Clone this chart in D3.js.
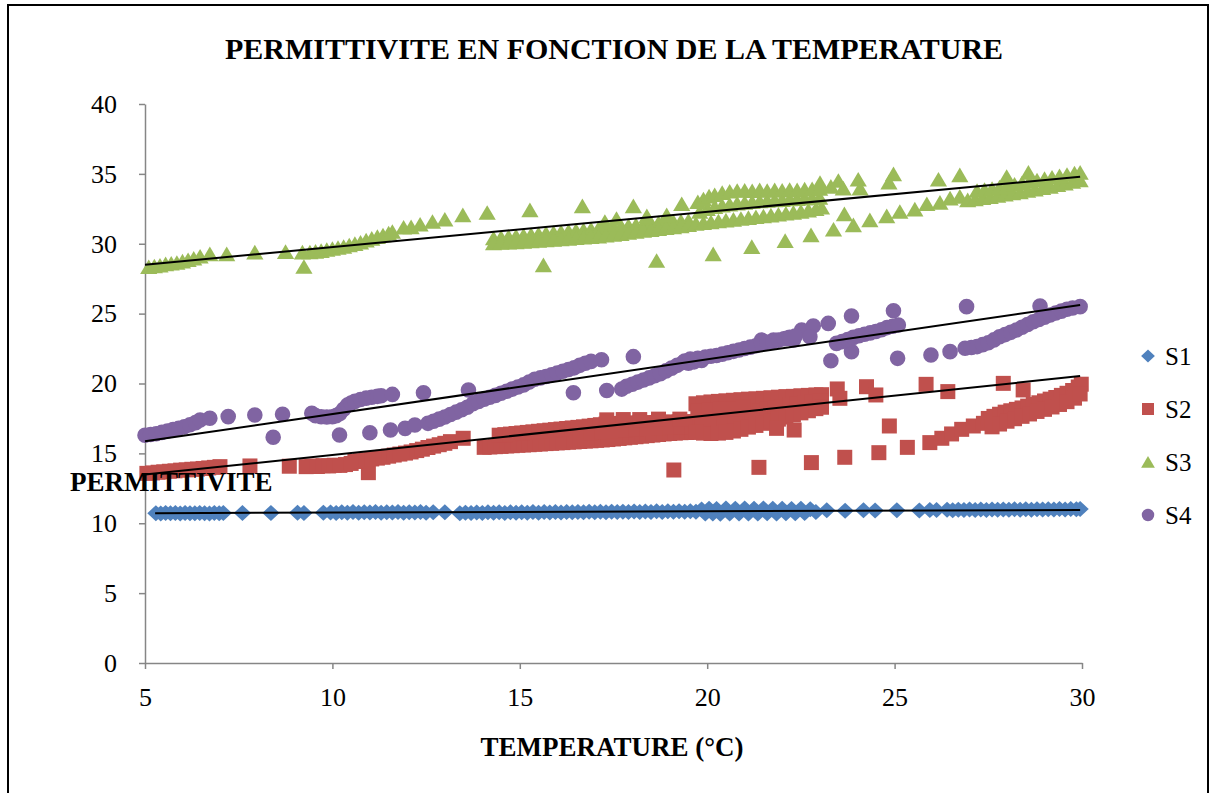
<!DOCTYPE html>
<html>
<head>
<meta charset="utf-8">
<script src="https://cdn.jsdelivr.net/npm/d3@7"></script>
<style>
  body { margin: 0; background: #fff; }
  svg { display: block; }
</style>
</head>
<body>
<svg id="chart" width="1214" height="793"></svg>
<script>
// Permittivity vs temperature, four samples (S1..S4) with linear trendlines.
const seriesNames = ["S1", "S2", "S3", "S4"];
const seriesColors = ["#4F81BD", "#C0504D", "#9BBB59", "#8064A2"];
const xTicks = [5, 10, 15, 20, 25, 30];
const yTicks = [0, 5, 10, 15, 20, 25, 30, 35, 40];

// [temperature °C, permittivity]
const s1 = [
  [5.29,10.72],[5.42,10.7],[5.55,10.74],[5.68,10.71],[5.81,10.73],[5.94,10.7],[6.07,10.74],[6.2,10.72],
  [6.33,10.71],[6.46,10.74],[6.59,10.72],[6.72,10.7],[6.85,10.74],[6.98,10.72],[7.09,10.73],
  [7.6,10.73],[8.36,10.74],[9.07,10.75],[9.24,10.73],[9.76,10.76],
  [9.95,10.77],[10.1,10.74],[10.25,10.79],[10.4,10.76],[10.55,10.8],[10.7,10.75],[10.85,10.79],[11.0,10.77],
  [11.15,10.8],[11.3,10.76],[11.45,10.79],[11.6,10.77],[11.75,10.8],[11.9,10.76],[12.05,10.79],[12.2,10.77],
  [12.35,10.8],[12.5,10.76],[12.69,10.79],[13.0,10.78],
  [13.4,10.72],[13.55,10.76],[13.7,10.73],[13.85,10.77],[14.0,10.74],[14.15,10.78],[14.3,10.75],[14.45,10.78],
  [14.6,10.74],[14.75,10.78],[14.9,10.75],[15.05,10.79],[15.2,10.76],[15.35,10.8],[15.5,10.76],[15.65,10.8],
  [15.8,10.77],[15.95,10.8],[16.1,10.77],[16.25,10.81],[16.4,10.78],[16.55,10.81],[16.7,10.78],[16.85,10.82],
  [17.0,10.78],[17.15,10.82],[17.3,10.79],[17.45,10.83],[17.6,10.8],[17.75,10.83],[17.9,10.8],[18.05,10.84],
  [18.2,10.8],[18.35,10.84],[18.5,10.81],[18.65,10.85],[18.8,10.81],[18.95,10.85],[19.1,10.82],[19.25,10.86],
  [19.4,10.82],[19.55,10.86],[19.7,10.83],
  [19.85,10.98],[19.95,10.7],[20.05,11.04],[20.15,10.7],[20.25,11.02],[20.35,10.68],[20.5,11.05],[20.6,10.7],
  [20.75,11.03],[20.85,10.69],[21.0,11.05],[21.1,10.7],[21.25,11.03],[21.35,10.69],[21.5,11.05],[21.6,10.71],
  [21.75,11.03],[21.85,10.7],[22.0,11.04],[22.1,10.72],[22.25,11.02],[22.35,10.71],[22.5,11.03],[22.6,10.73],
  [22.75,11.0],[22.9,10.8],
  [23.19,10.93],[23.68,10.9],[24.17,10.93],[24.48,10.92],[25.06,10.93],[25.66,10.92],[25.94,10.95],[26.12,10.94],
  [26.4,10.96],[26.55,10.93],[26.7,10.97],[26.85,10.94],[27.0,10.98],[27.15,10.95],[27.3,10.98],[27.45,10.95],
  [27.6,10.99],[27.75,10.96],[27.9,10.99],[28.05,10.96],[28.2,11.0],[28.35,10.97],[28.5,11.0],[28.65,10.97],
  [28.8,11.01],[28.95,10.98],[29.1,11.01],[29.25,10.98],[29.4,11.02],[29.55,10.99],[29.7,11.02],[29.85,11.0],
  [29.95,11.02]
];

const s2 = [
  [5.05,13.57],[5.2,13.6],[5.35,13.65],[5.5,13.68],[5.65,13.72],[5.8,13.75],[5.95,13.8],[6.1,13.82],
  [6.25,13.86],[6.4,13.88],[6.55,13.92],[6.7,13.96],[6.85,14.0],[7.0,14.05],
  [7.8,14.1],[8.85,14.08],
  [9.3,14.05],[9.45,14.1],[9.6,14.06],[9.75,14.12],[9.9,14.1],[10.05,14.15],[10.2,14.14],[10.35,14.2],[10.5,14.28],
  [10.96,13.62],
  [10.6,14.42],[10.75,14.48],[10.9,14.55],[11.05,14.6],[11.2,14.66],[11.35,14.72],[11.5,14.8],[11.65,14.88],
  [11.8,14.95],[11.95,15.02],[12.1,15.1],[12.25,15.2],[12.4,15.3],[12.55,15.42],[12.7,15.52],[12.85,15.62],
  [13.0,15.72],[13.15,15.84],
  [13.49,16.08],
  [14.05,15.43],[14.2,15.46],[14.35,15.48],[14.5,15.5],[14.65,15.53],[14.8,15.55],[14.95,15.58],[15.1,15.6],
  [15.25,15.62],[15.4,15.65],[15.55,15.67],[15.7,15.7],[15.85,15.72],[16.0,15.75],[16.15,15.77],[16.3,15.8],
  [16.45,15.82],[16.6,15.85],[16.75,15.88],[16.9,15.9],[17.05,15.93],[17.2,15.96],[17.35,15.99],[17.5,16.03],
  [17.65,16.07],[17.8,16.11],[17.95,16.15],[18.1,16.19],[18.25,16.23],[18.4,16.27],[18.55,16.31],[18.7,16.35],
  [18.85,16.39],[19.0,16.42],[19.15,16.45],[19.3,16.48],[19.45,16.5],[19.6,16.52],
  [14.45,16.3],[14.6,16.34],[14.75,16.38],[14.9,16.42],[15.05,16.46],[15.2,16.5],[15.35,16.54],[15.5,16.58],
  [15.65,16.62],[15.8,16.66],[15.95,16.7],[16.1,16.74],[16.25,16.78],[16.4,16.82],[16.55,16.86],[16.7,16.9],
  [16.85,16.95],[17.0,17.0],[17.15,17.05],[17.3,17.1],[17.45,17.12],[17.6,17.14],[17.75,17.15],[17.9,17.16],
  [18.05,17.17],[18.2,17.18],[18.35,17.19],[18.5,17.2],[18.65,17.21],[18.8,17.22],[18.95,17.23],[19.1,17.24],
  [19.25,17.25],[19.4,17.26],[19.55,17.27],
  [16.6,16.35],[16.9,16.45],[17.2,16.55],[17.5,16.62],[17.8,16.68],[18.1,16.72],[18.4,16.78],[18.7,16.82],
  [19.0,16.86],[19.3,16.9],[19.6,16.95],
  [17.32,17.4],[17.76,17.42],[18.2,17.42],[18.7,17.45],[19.27,17.45],
  [19.7,18.55],[19.9,18.62],[20.1,18.68],[20.3,18.72],[20.5,18.76],[20.7,18.8],[20.9,18.84],[21.1,18.88],
  [21.3,18.9],[21.5,18.94],[21.7,18.98],[21.9,19.02],[22.1,19.06],[22.3,19.08],[22.5,19.12],[22.7,19.15],
  [22.9,19.18],[23.05,19.2],
  [19.8,17.55],[20.0,17.6],[20.2,17.65],[20.4,17.7],[20.6,17.75],[20.8,17.8],[21.0,17.85],[21.2,17.95],
  [21.4,18.05],[21.6,18.15],[21.8,18.25],[22.0,18.35],[22.2,18.45],[22.4,18.55],[22.6,18.62],[22.8,18.7],[23.0,18.75],
  [19.75,18.05],[20.05,18.1],[20.35,18.15],[20.65,18.2],[20.95,18.3],
  [19.85,17.0],[20.15,17.0],[20.45,17.05],[20.75,17.1],
  [19.7,16.5],[19.9,16.45],[20.1,16.42],[20.3,16.45],[20.5,16.5],[20.7,16.6],[20.9,16.72],[21.1,16.88],
  [21.3,17.0],[21.5,17.15],[21.7,17.3],[21.9,17.45],[22.1,17.6],[22.3,17.75],[22.5,17.9],[22.7,18.05],
  [22.9,18.2],[23.05,18.3],
  [19.11,13.81],[21.38,14.0],[21.85,16.79],[22.32,16.67],[22.78,14.34],[23.47,19.61],[23.54,18.94],[23.67,14.72],
  [24.25,19.77],[24.5,19.18],[24.58,15.05],[24.86,16.96],[25.34,15.43],[25.84,19.94],[25.94,15.77],[26.26,16.08],
  [26.42,19.42],[26.52,16.39],[26.79,16.72],[27.1,16.96],[27.37,17.15],[27.9,20.01],[28.43,19.54],
  [27.5,17.5],[27.65,17.65],[27.8,17.8],[27.95,17.95],[28.1,18.05],[28.25,18.15],[28.4,18.25],[28.55,18.38],
  [28.7,18.5],[28.85,18.62],[29.0,18.75],[29.15,18.88],[29.3,19.0],[29.45,19.15],[29.6,19.3],[29.75,19.5],
  [29.9,19.75],[29.98,19.95],
  [27.6,16.9],[27.8,17.1],[28.0,17.3],[28.2,17.48],[28.4,17.65],[28.6,17.82],[28.8,18.0],[29.0,18.15],
  [29.2,18.32],[29.4,18.5],[29.6,18.7],[29.8,18.95],[29.95,19.25]
];

const s3 = [
  [5.1,28.35],[5.25,28.4],[5.4,28.45],[5.55,28.55],[5.7,28.6],[5.85,28.65],[6.0,28.75],[6.15,28.85],
  [6.3,28.95],[6.47,29.1],
  [6.73,29.27],[7.18,29.27],[7.93,29.39],[8.75,29.43],[9.2,29.39],[9.24,28.36],
  [9.4,29.4],[9.55,29.45],[9.7,29.5],[9.85,29.58],[10.0,29.65],[10.15,29.72],[10.3,29.8],[10.45,29.9],
  [10.6,30.0],[10.75,30.1],[10.9,30.25],[11.05,30.38],[11.2,30.5],[11.35,30.62],[11.5,30.75],[11.6,30.87],
  [11.9,31.17],[12.1,31.2],[12.34,31.39],[12.67,31.58],[13.0,31.75],[13.48,32.06],[14.13,32.23],
  [14.3,30.4],[14.5,30.45],[14.7,30.5],[14.9,30.55],[15.1,30.6],[15.3,30.65],[15.5,30.7],[15.7,30.75],
  [15.9,30.8],[16.1,30.85],[16.3,30.9],[16.5,30.95],[16.7,31.0],[16.9,31.05],[17.1,31.1],[17.3,31.15],
  [17.5,31.2],[17.7,31.25],[17.9,31.3],[18.1,31.35],[18.3,31.4],[18.5,31.45],[18.7,31.5],[18.9,31.55],
  [19.1,31.58],[19.3,31.62],[19.5,31.66],
  [14.3,30.05],[14.5,30.08],[14.7,30.1],[14.9,30.13],[15.1,30.16],[15.3,30.2],[15.5,30.23],[15.7,30.27],
  [15.9,30.3],[16.1,30.34],[16.3,30.38],[16.5,30.42],[16.7,30.46],[16.9,30.5],[17.1,30.53],[17.3,30.6],
  [17.5,30.66],[17.7,30.72],[17.9,30.8],[18.1,30.87],[18.3,30.94],[18.5,31.0],[18.7,31.07],[18.9,31.14],
  [19.1,31.2],[19.3,31.27],[19.5,31.35],
  [15.27,32.42],[16.67,32.7],[17.27,31.58],[17.58,31.8],[18.03,32.7],[18.39,31.99],[18.92,32.06],[19.32,32.85],
  [15.63,28.48],[18.65,28.79],[20.16,29.27],[21.19,29.79],[22.08,30.22],[22.77,30.63],[23.37,31.03],[23.66,32.13],
  [23.9,31.34],[24.34,31.7],[24.79,31.99],[25.14,32.3],[25.54,32.47],[25.86,32.85],[26.21,32.95],[26.48,33.26],
  [26.74,33.38],
  [19.7,31.45],[19.9,31.5],[20.1,31.56],[20.3,31.62],[20.5,31.68],[20.7,31.74],[20.9,31.8],[21.1,31.86],
  [21.3,31.92],[21.5,31.98],[21.7,32.04],[21.9,32.1],[22.1,32.17],[22.3,32.24],[22.5,32.31],[22.7,32.4],
  [22.9,32.5],[23.05,32.6],
  [19.8,32.3],[20.0,32.5],[20.2,32.65],[20.4,32.75],[20.6,32.82],[20.8,32.9],[21.0,32.95],[21.2,33.0],
  [21.4,33.05],[21.6,33.1],[21.8,33.12],[22.0,33.15],[22.2,33.2],[22.4,33.22],[22.6,33.25],[22.8,33.28],[23.0,33.3],
  [19.75,33.0],[19.9,33.2],[20.05,33.4],[20.2,33.5],[20.4,33.65],[20.6,33.75],[20.8,33.8],[21.0,33.82],
  [21.2,33.78],[21.4,33.85],[21.6,33.8],[21.8,33.85],[22.0,33.82],[22.2,33.88],[22.4,33.85],[22.6,33.9],
  [22.8,33.92],[23.0,33.95],
  [23.01,34.37],[23.3,34.1],[23.5,34.52],[23.63,33.97],[24.03,34.61],[24.08,33.97],[24.97,34.99],[24.85,34.4],
  [26.17,34.61],[26.74,34.92],[27.99,34.8],[28.57,35.1],
  [26.95,33.13],[27.15,33.2],[27.35,33.28],[27.55,33.36],[27.75,33.45],[27.95,33.54],[28.15,33.62],[28.35,33.7],
  [28.55,33.8],[28.75,33.9],[28.95,34.0],[29.15,34.1],[29.35,34.22],[29.55,34.33],[29.75,34.45],[29.95,34.56],
  [27.2,33.8],[27.4,33.88],[27.6,33.95],[27.8,34.05],[28.0,34.15],[28.2,34.25],[28.4,34.35],[28.6,34.45],
  [28.8,34.55],[29.0,34.65],[29.2,34.75],[29.4,34.85],[29.6,34.95],[29.8,35.05],[29.95,35.1]
];

const s4 = [
  [5.0,16.3],[5.15,16.35],[5.3,16.4],[5.45,16.5],[5.6,16.6],[5.75,16.7],[5.9,16.8],[6.05,16.9],
  [6.2,17.05],[6.35,17.2],[6.47,17.39],[6.73,17.51],
  [7.22,17.63],[7.93,17.75],[8.42,16.15],[8.67,17.8],[9.45,17.87],
  [9.55,17.7],[9.7,17.62],[9.85,17.6],[10.0,17.62],[10.1,17.7],
  [10.2,17.85],[10.3,18.15],[10.4,18.45],[10.5,18.6],[10.6,18.72],[10.75,18.85],[10.9,18.95],[11.05,19.02],
  [11.2,19.08],[11.3,19.12],[11.6,19.22],
  [10.19,16.32],[11.0,16.48],[11.55,16.67],[11.94,16.79],[12.2,17.03],[12.43,19.34],[13.63,19.54],
  [12.55,17.15],[12.7,17.3],[12.85,17.45],[13.0,17.6],[13.15,17.78],[13.3,17.95],[13.45,18.12],[13.6,18.3],
  [13.75,18.55],[13.9,18.72],[14.05,18.88],[14.2,19.02],[14.35,19.15],[14.5,19.3],[14.65,19.45],[14.8,19.6],
  [14.95,19.75],[15.1,19.9],[15.25,20.1],[15.4,20.3],[15.55,20.4],[15.7,20.5],[15.85,20.62],[16.0,20.75],
  [16.15,20.88],[16.3,21.0],[16.45,21.12],[16.6,21.3],[16.75,21.45],[16.9,21.58],
  [16.43,19.34],[17.18,21.7],[17.32,19.5],[17.72,19.6],[18.03,21.92],
  [17.85,19.8],[18.0,19.95],[18.15,20.1],[18.3,20.25],[18.45,20.4],[18.6,20.55],[18.75,20.7],[18.9,20.9],
  [19.05,21.1],[19.2,21.3],[19.36,21.5],
  [19.4,21.6],[19.5,21.45],[19.55,21.75],[19.65,21.55],[19.75,21.8],[19.85,21.65],[19.95,21.9],[20.1,21.95],
  [20.25,22.0],[20.4,22.1],[20.55,22.2],[20.7,22.3],[20.85,22.4],[21.0,22.5],[21.15,22.6],[21.3,22.7],
  [21.45,23.11],[21.77,23.11],[22.12,23.23],[22.3,23.11],[22.52,23.83],[22.83,24.11],[22.74,23.35],
  [21.45,22.85],[21.6,22.95],[21.75,23.0],[21.9,23.1],[22.05,23.2],[22.2,23.3],[22.35,23.4],
  [23.23,24.3],[23.85,24.83],[24.97,25.21],[23.3,21.63],[23.85,22.28],[25.08,21.8],[25.97,22.04],[26.48,22.28],
  [26.92,25.5],[28.88,25.55],
  [23.45,22.87],[23.6,23.0],[23.75,23.15],[23.9,23.3],[24.05,23.42],[24.2,23.52],[24.35,23.62],[24.5,23.72],
  [24.65,23.85],[24.8,24.0],[24.95,24.1],[25.1,24.19],
  [26.88,22.52],[27.05,22.58],[27.2,22.64],[27.35,22.78],[27.5,22.92],[27.65,23.12],[27.8,23.35],[27.95,23.5],
  [28.1,23.66],[28.25,23.83],[28.4,24.02],[28.55,24.22],[28.7,24.42],[28.85,24.58],[29.0,24.74],[29.15,24.9],
  [29.3,25.04],[29.45,25.18],[29.6,25.31],[29.75,25.4],[29.95,25.5]
];

// Linear trendline end points for each sample
const trend1 = [[5.27, 10.72], [29.95, 10.95]];
const trend2 = [[5.0, 13.48], [29.95, 20.53]];
const trend3 = [[5.0, 28.5], [29.95, 34.8]];
const trend4 = [[5.0, 15.86], [29.95, 25.62]];

const FONT = "'Liberation Serif', 'Times New Roman', serif";

const svg = d3.select("#chart");
const x = d3.scaleLinear().domain([5, 30]).range([145, 1082]);
const y = d3.scaleLinear().domain([0, 40]).range([663, 104]);

// Outer frame
svg.append("rect")
  .attr("x", 8).attr("y", 5).attr("width", 1200).attr("height", 800)
  .attr("fill", "none").attr("stroke", "#000").attr("stroke-width", 2);

// Marker shapes, centred on the data point
const shapes = {
  diamond: "M0,-8L8.6,0L0,8L-8.6,0Z",
  square: "M-7.5,-7.5H7.5V7.5H-7.5Z",
  triangle: "M0,-7.4L8.6,7.2L-8.6,7.2Z",
  circle: d3.symbol(d3.symbolCircle, Math.PI * 7.8 * 7.8)()
};

const series = [
  { name: seriesNames[0], data: s1, color: seriesColors[0], shape: "diamond", trend: trend1 },
  { name: seriesNames[1], data: s2, color: seriesColors[1], shape: "square", trend: trend2 },
  { name: seriesNames[2], data: s3, color: seriesColors[2], shape: "triangle", trend: trend3 },
  { name: seriesNames[3], data: s4, color: seriesColors[3], shape: "circle", trend: trend4 }
];

// Axes
const xAxis = d3.axisBottom(x).tickValues(xTicks).tickSize(6).tickSizeOuter(0).tickPadding(19);
const yAxis = d3.axisLeft(y).tickValues(yTicks).tickSize(6).tickSizeOuter(0).tickPadding(22);

const gx = svg.append("g").attr("transform", "translate(0,663)").call(xAxis);
const gy = svg.append("g").attr("transform", "translate(145,0)").call(yAxis);
[gx, gy].forEach(g => {
  g.attr("font-family", FONT).attr("font-size", 26);
  g.select(".domain").attr("stroke", "#868686").attr("stroke-width", 1.5);
  g.selectAll(".tick line").attr("stroke", "#868686").attr("stroke-width", 1.5);
  g.selectAll(".tick text").attr("fill", "#000")
    .attr("font-family", FONT).attr("font-size", 26);
});

// Data points
const plot = svg.append("g");
series.forEach(s => {
  plot.append("g").selectAll("path").data(s.data).join("path")
    .attr("d", shapes[s.shape])
    .attr("transform", d => `translate(${x(d[0])},${y(d[1])})`)
    .attr("fill", s.color);
});

// Trendlines
const line = d3.line().x(d => x(d[0])).y(d => y(d[1]));
series.forEach(s => {
  svg.append("path").datum(s.trend)
    .attr("d", line).attr("fill", "none")
    .attr("stroke", "#000").attr("stroke-width", 2);
});

// Titles
svg.append("text").attr("x", 614).attr("y", 59).attr("text-anchor", "middle")
  .attr("font-family", FONT).attr("font-size", 30).attr("font-weight", "bold")
  .text("PERMITTIVITE EN FONCTION DE LA TEMPERATURE");
svg.append("text").attr("x", 612).attr("y", 756).attr("text-anchor", "middle")
  .attr("font-family", FONT).attr("font-size", 27).attr("font-weight", "bold")
  .text("TEMPERATURE (°C)");
svg.append("text").attr("x", 70).attr("y", 491)
  .attr("font-family", FONT).attr("font-size", 27).attr("font-weight", "bold")
  .text("PERMITTIVITE");

// Legend
const legend = svg.append("g").attr("transform", "translate(1148,356)");
series.forEach((s, i) => {
  const row = legend.append("g").attr("transform", `translate(0,${i * 53})`);
  row.append("path").attr("d", shapes[s.shape]).attr("fill", s.color)
    .attr("transform", "scale(0.8)");
  row.append("text").attr("x", 17).attr("y", 8.5)
    .attr("font-family", FONT).attr("font-size", 25)
    .text(s.name);
});
</script>
</body>
</html>
